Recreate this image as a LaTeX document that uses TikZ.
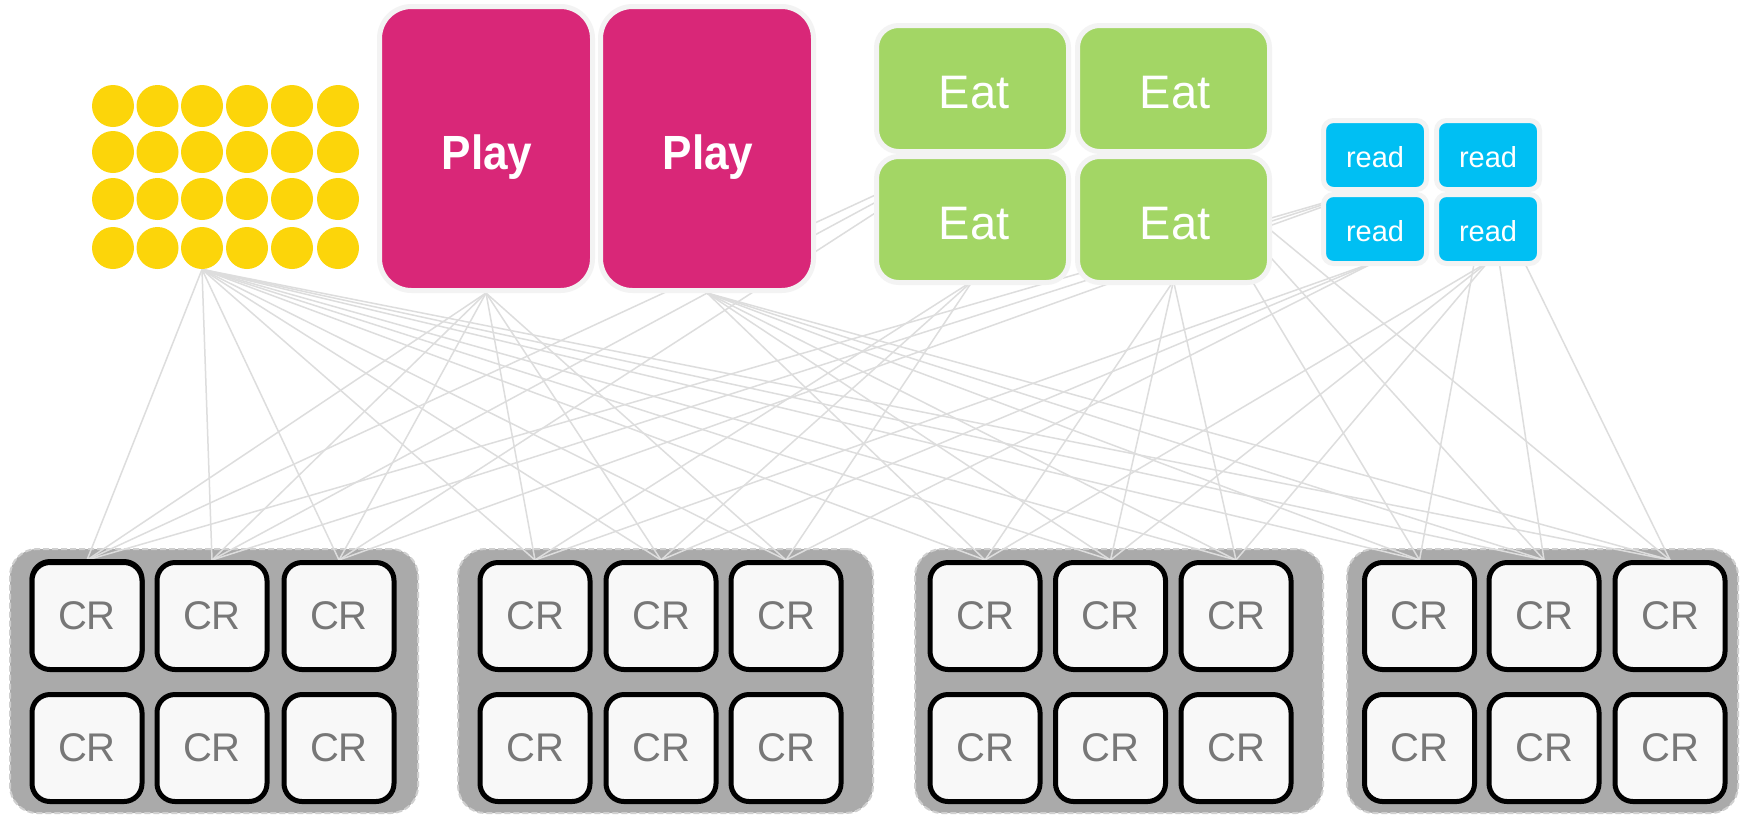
\documentclass[tikz,border=0pt]{standalone}
\usepackage{fontspec}
\usepackage{graphicx}
\newfontfamily\arial{Liberation Sans}
\pgfdeclarelayer{bg}
\pgfdeclarelayer{edges}
\pgfsetlayers{bg,edges,main}
\definecolor{ylw}{HTML}{FCD50A}
\definecolor{mag}{HTML}{D92778}
\definecolor{grn}{HTML}{A3D665}
\definecolor{cyn}{HTML}{00BFF3}
\definecolor{halo}{HTML}{F3F3F3}
\definecolor{crfill}{HTML}{F8F8F8}
\definecolor{crtext}{HTML}{777777}
\definecolor{grpfill}{HTML}{AAAAAA}
\definecolor{grpline}{HTML}{CFCFCF}
\definecolor{edgec}{HTML}{DDDDDD}
\begin{document}
\begin{tikzpicture}[x=0.5pt,y=-0.5pt,
  dot/.style={circle,fill=ylw,inner sep=0pt,minimum size=21pt},
  playbox/.style={rectangle,rounded corners=16pt,fill=mag,draw=halo,line width=2.5pt,minimum width=106.5pt,minimum height=142pt,inner sep=0pt},
  playtext/.style={anchor=base,text=white,font=\arial\bfseries\fontsize{24pt}{28pt}\selectfont,inner sep=0pt},
  eatbox/.style={rectangle,rounded corners=11pt,fill=grn,draw=halo,line width=2.5pt,minimum width=96pt,minimum height=63pt,inner sep=0pt},
  eattext/.style={anchor=base,text=white,font=\arial\fontsize{23.5pt}{28pt}\selectfont,inner sep=0pt},
  readbox/.style={rectangle,rounded corners=5pt,fill=cyn,draw=halo,line width=2.5pt,minimum width=51.5pt,minimum height=34.5pt,inner sep=0pt},
  readtext/.style={anchor=base,text=white,font=\arial\fontsize{14.5pt}{17pt}\selectfont,inner sep=0pt},
  crbox/.style={rectangle,rounded corners=9pt,fill=crfill,draw=black,line width=2.5pt,minimum width=55pt,minimum height=53.5pt,inner sep=0pt,text=crtext,font=\arial\fontsize{20pt}{24pt}\selectfont},
  grpbox/.style={rectangle,rounded corners=13.5pt,fill=grpfill,draw=grpline,line width=1pt,dash pattern=on 3pt off 1.5pt,minimum height=132pt,inner sep=0pt},
  link/.style={draw=edgec,line width=0.75pt}
]
\useasboundingbox (0,0) rectangle (1748,815);
\begin{pgfonlayer}{bg}
  \fill[white] (0,0) rectangle (1748,815);
  \node[grpbox,minimum width=204pt] (g1) at (214,681) {};
  \node[grpbox,minimum width=207.5pt] (g2) at (665.5,681) {};
  \node[grpbox,minimum width=204pt] (g3) at (1119,681) {};
  \node[grpbox,minimum width=195.5pt] (g4) at (1542.5,681) {};
\end{pgfonlayer}

% yellow dots
\foreach \x [count=\c] in {113,157.5,202,247,292,338} {
  \foreach \y [count=\r] in {106,152,199,248} {
    \node[dot] (d\c\r) at (\x,\y) {};
  }
}

% Play boxes
\node[playbox] (p1) at (486,148.5) {};
\node[playtext] (p1t) at (487,169) {\scalebox{0.92}[1]{Play}};
\node[playbox] (p2) at (707,148.5) {};
\node[playtext] (p2t) at (708,169) {\scalebox{0.92}[1]{Play}};

% Eat boxes
\node[eatbox] (e1) at (972.5,88.5) {};
\node[eatbox] (e2) at (1173.5,88.5) {};
\node[eatbox] (e3) at (972.5,219.5) {};
\node[eatbox] (e4) at (1173.5,219.5) {};
\node[eattext] (e1t) at (974,108) {Eat};
\node[eattext] (e2t) at (1175,108) {Eat};
\node[eattext] (e3t) at (974,239) {Eat};
\node[eattext] (e4t) at (1175,239) {Eat};

% read boxes
\node[readbox] (r1) at (1375,155) {};
\node[readbox] (r2) at (1488,155) {};
\node[readbox] (r3) at (1375,229) {};
\node[readbox] (r4) at (1488,229) {};
\node[readtext] (r1t) at (1375,167) {read};
\node[readtext] (r2t) at (1488,167) {read};
\node[readtext] (r3t) at (1375,241) {read};
\node[readtext] (r4t) at (1488,241) {read};

% CR boxes
\draw[black,line width=2.5pt,fill=crfill,rounded corners=9pt] (32,561.5) rectangle (142,668.5);
\foreach \g/\xa/\xb/\xc in {1/87/212/339,2/535/661/786,3/985/1110.5/1236,4/1419.5/1544/1670} {
  \foreach \x [count=\i] in {\xa,\xb,\xc} {
    \node[crbox] (c\g\i1) at (\x,616) {CR};
    \node[crbox] (c\g\i2) at (\x,748) {CR};
  }
}

% connectors
\begin{pgfonlayer}{edges}
  \foreach \g in {1,2,3,4} {
    \foreach \i in {1,2,3} {
      \draw[link] (d34.south) -- (c\g\i1.north);
    }
  }
  \foreach \g/\p in {1/1,2/1,3/2,4/2} {
    \foreach \i in {1,2,3} {
      \draw[link] (p\p.south) -- (c\g\i1.north);
    }
  }
  \foreach \g/\e in {1/1,2/3,3/4,4/2} {
    \foreach \i in {1,2,3} {
      \draw[link] ([yshift=2pt]e\e.south) -- (c\g\i1.north);
      \draw[link] ([yshift=2pt]r\e.south) -- (c\g\i1.north);
    }
  }
\end{pgfonlayer}
\end{tikzpicture}
\end{document}
